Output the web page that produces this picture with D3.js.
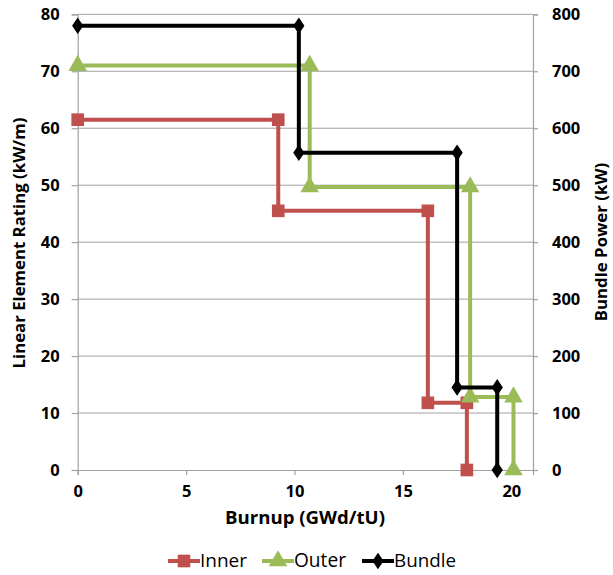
<!DOCTYPE html>
<html><head><meta charset="utf-8">
<script src="https://cdn.jsdelivr.net/npm/d3@7"></script>
<style>body{margin:0;background:#fff;} text{font-family:"Open Sans","DejaVu Sans",sans-serif;}</style>
</head><body><svg id="c" width="613" height="575"></svg>
<script>
const innerX = [0, 9.25, 9.25, 16.15, 16.15, 17.95, 17.95];
const innerY = [61.5, 61.5, 45.5, 45.5, 11.8, 11.8, 0];
const outerX = [0, 10.7, 10.7, 18.1, 18.1, 20.1, 20.1];
const outerY = [71, 71, 49.7, 49.7, 12.8, 12.8, 0];
const bundleX = [0, 10.2, 10.2, 17.5, 17.5, 19.35, 19.35];
const bundleY = [780, 780, 557, 557, 145, 145, 0];
const xTicks = [0, 5, 10, 15, 20];
const yTicks = [0, 10, 20, 30, 40, 50, 60, 70, 80];
const y2Ticks = [0, 100, 200, 300, 400, 500, 600, 700, 800];
const seriesNames = ["Inner", "Outer", "Bundle"];
const colors = ["#c0504d", "#9bbb59", "#000000"];

const svg = d3.select("#c");
const L = 77.7, R = 533, T = 14.3, B = 470;
const x = d3.scaleLinear().domain([0, 21]).range([L, R]);
const y = d3.scaleLinear().domain([0, 80]).range([B, T]);
const y2 = d3.scaleLinear().domain([0, 800]).range([B, T]);

// fit a text element to a target length by adjusting font-size
function fit(sel, target) {
  const n = sel.node();
  const w = n.getComputedTextLength();
  const fs = parseFloat(sel.attr("font-size"));
  sel.attr("font-size", (fs * target / w).toFixed(2));
}

// gridlines
svg.append("g").selectAll("line").data(yTicks.slice(1)).join("line")
  .attr("x1", L).attr("x2", R).attr("y1", d => y(d)).attr("y2", d => y(d))
  .attr("stroke", "#a0a0a0").attr("stroke-width", 1);

const axL = svg.append("g").attr("transform", `translate(${L},0)`)
  .call(d3.axisLeft(y).tickValues(yTicks).tickSize(6).tickPadding(12));
const axR = svg.append("g").attr("transform", `translate(${R},0)`)
  .call(d3.axisRight(y2).tickValues(y2Ticks).tickSize(5).tickPadding(14));
const axB = svg.append("g").attr("transform", `translate(0,${B})`)
  .call(d3.axisBottom(x).tickValues(xTicks).tickSize(5).tickPadding(10));
[axL, axR, axB].forEach(a => {
  a.selectAll("path,line").attr("stroke", "#a0a0a0").attr("stroke-width", 1.2);
  a.selectAll("text").attr("font-size", 16.5).attr("font-weight", "bold").attr("fill", "#000")
   .attr("font-family", "'Open Sans','DejaVu Sans',sans-serif");
});

const sets = [
  {xs: innerX, ys: innerY, sc: y},
  {xs: outerX, ys: outerY, sc: y},
  {xs: bundleX, ys: bundleY, sc: y2}
];
const symbols = [d3.symbolSquare, d3.symbolTriangle, d3.symbolDiamond];
const symSize = [160, 150, 110];

sets.forEach((s, i) => {
  const pts = s.xs.map((v, k) => [x(v), s.sc(s.ys[k])]);
  svg.append("path").attr("d", d3.line()(pts)).attr("fill", "none")
    .attr("stroke", colors[i]).attr("stroke-width", 4);
  svg.append("g").selectAll("path").data(pts).join("path")
    .attr("transform", d => `translate(${d[0]},${d[1]})` + (i === 2 ? " scale(1,0.85)" : ""))
    .attr("d", d3.symbol().type(symbols[i]).size(symSize[i]))
    .attr("fill", colors[i]);
});

const xt = svg.append("text").attr("x", 305).attr("y", 524).attr("text-anchor", "middle")
  .attr("font-size", 16).attr("font-weight", "bold").text("Burnup (GWd/tU)");
fit(xt, 160);
const yt = svg.append("text").attr("transform", `translate(25,243) rotate(-90)`).attr("text-anchor", "middle")
  .attr("font-size", 16).attr("font-weight", "bold").text("Linear Element Rating (kW/m)");
fit(yt, 251);
svg.append("text").attr("transform", `translate(607,242) rotate(-90)`).attr("text-anchor", "middle")
  .attr("font-size", yt.attr("font-size")).attr("font-weight", "bold").text("Bundle Power (kW)");

// legend
const legX = [168, 262, 362];
const legW = [47, 52, 62];
seriesNames.forEach((n, i) => {
  const g = svg.append("g").attr("transform", `translate(${legX[i]},561)`);
  g.append("line").attr("x1", 0).attr("x2", 32).attr("stroke", colors[i]).attr("stroke-width", 4);
  g.append("path").attr("transform", "translate(16,0)" + (i === 2 ? " scale(1,0.85)" : ""))
    .attr("d", d3.symbol().type(symbols[i]).size(symSize[i])).attr("fill", colors[i]);
  const t = g.append("text").attr("x", 32).attr("y", 6).attr("font-size", 16).text(n);
  fit(t, legW[i]);
});
</script></body></html>
